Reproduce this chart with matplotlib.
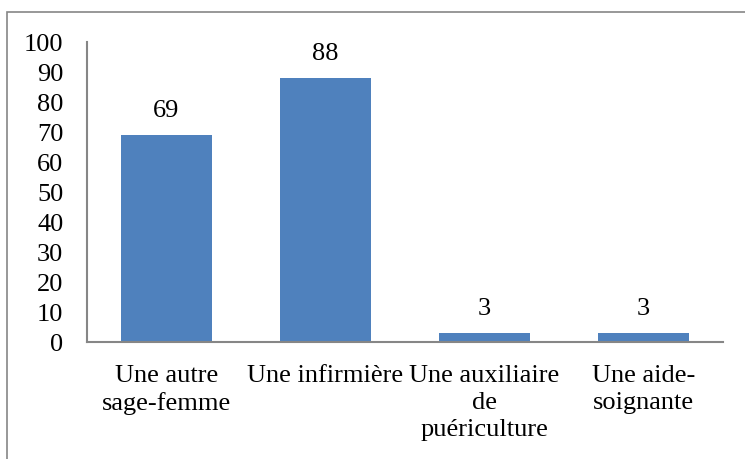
import matplotlib
matplotlib.use("Agg")
import matplotlib.pyplot as plt
from matplotlib.patches import Rectangle

# data
categories = ["Une autre\nsage-femme", "Une infirmière", "Une auxiliaire\nde\npuériculture", "Une aide-\nsoignante"]
values = [69, 88, 3, 3]
yticks = [0, 10, 20, 30, 40, 50, 60, 70, 80, 90, 100]

plt.rcParams["font.family"] = ["Liberation Serif", "DejaVu Serif"]

fig = plt.figure(figsize=(7.45, 4.6), dpi=100)
ax = fig.add_axes([87 / 745, 1 - 342.7 / 460, (723 - 87) / 745, 300 / 460])

x = range(len(categories))
ax.bar(x, values, width=0.57, color="#4F81BD")

for xi, v in zip(x, values):
    ax.annotate(str(v), (xi, v), xytext=(0, 13.5), textcoords="offset points",
                ha="center", va="baseline", fontsize=19)

ax.set_xlim(-0.5, len(categories) - 0.5)
ax.set_ylim(0, 100)
ax.set_yticks(yticks)
ax.set_xticks(list(x))
ax.set_xticklabels(categories, fontsize=19, linespacing=1.3)
ax.tick_params(axis="y", length=0, pad=17, labelsize=19)
ax.tick_params(axis="x", length=0, pad=16)

for s in ["top", "right"]:
    ax.spines[s].set_visible(False)
for s in ["left", "bottom"]:
    ax.spines[s].set_color("#868686")
    ax.spines[s].set_linewidth(1.5)

# outer chart border
fig.patches.append(Rectangle((7 / 745, -0.05), 1.0, 1 - 13 / 460 + 0.05,
                             transform=fig.transFigure, fill=False,
                             edgecolor="#868686", linewidth=1.2))

fig.savefig("out.png", dpi=100)
